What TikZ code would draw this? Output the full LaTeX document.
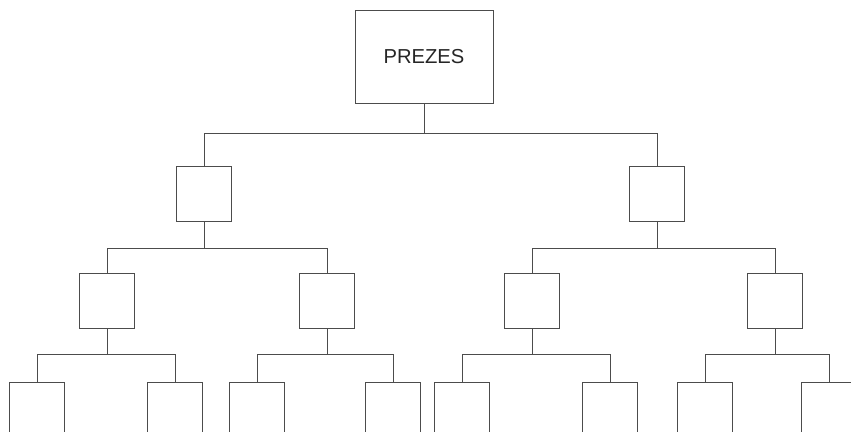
\documentclass[tikz,border=0pt]{standalone}
\usepackage{fontspec}
\setmainfont{Liberation Sans}
\usepackage{tikz}
\usetikzlibrary{positioning}

\begin{document}
\begin{tikzpicture}[
    x=0.02cm, y=-0.02cm,
    chief/.style={rectangle, draw=black!70, line width=0.5pt, minimum width=2.76cm, minimum height=1.86cm, align=center, font=\fontsize{11.5}{13}\selectfont, text=black!85},
    unit/.style={rectangle, draw=black!70, line width=0.5pt, minimum width=1.1cm, minimum height=1.1cm, anchor=north},
    link/.style={draw=black!70, line width=0.5pt, -}
]
\useasboundingbox (0,0) rectangle (851,432);
\clip (0,0) rectangle (851,432);

% Nodes
\node (prezes) [chief] at (424,56.5) {PREZES};

\node (l2a) [unit] at (204,166) {};
\node (l2b) [unit] at (657,166) {};

\node (l3a) [unit] at (107,273) {};
\node (l3b) [unit] at (327,273) {};
\node (l3c) [unit] at (532,273) {};
\node (l3d) [unit] at (775,273) {};

\node (l4a) [unit] at (37,382) {};
\node (l4b) [unit] at (175,382) {};
\node (l4c) [unit] at (257,382) {};
\node (l4d) [unit] at (393,382) {};
\node (l4e) [unit] at (462,382) {};
\node (l4f) [unit] at (610,382) {};
\node (l4g) [unit] at (705,382) {};
\node (l4h) [unit] at (829,382) {};

% Edges
\draw [link] (prezes.south) -- ++(0,30) -| (l2a.north);
\draw [link] (prezes.south) -- ++(0,30) -| (l2b.north);

\draw [link] (l2a.south) -- ++(0,27) -| (l3a.north);
\draw [link] (l2a.south) -- ++(0,27) -| (l3b.north);
\draw [link] (l2b.south) -- ++(0,27) -| (l3c.north);
\draw [link] (l2b.south) -- ++(0,27) -| (l3d.north);

\draw [link] (l3a.south) -- ++(0,26) -| (l4a.north);
\draw [link] (l3a.south) -- ++(0,26) -| (l4b.north);
\draw [link] (l3b.south) -- ++(0,26) -| (l4c.north);
\draw [link] (l3b.south) -- ++(0,26) -| (l4d.north);
\draw [link] (l3c.south) -- ++(0,26) -| (l4e.north);
\draw [link] (l3c.south) -- ++(0,26) -| (l4f.north);
\draw [link] (l3d.south) -- ++(0,26) -| (l4g.north);
\draw [link] (l3d.south) -- ++(0,26) -| (l4h.north);

\end{tikzpicture}
\end{document}
